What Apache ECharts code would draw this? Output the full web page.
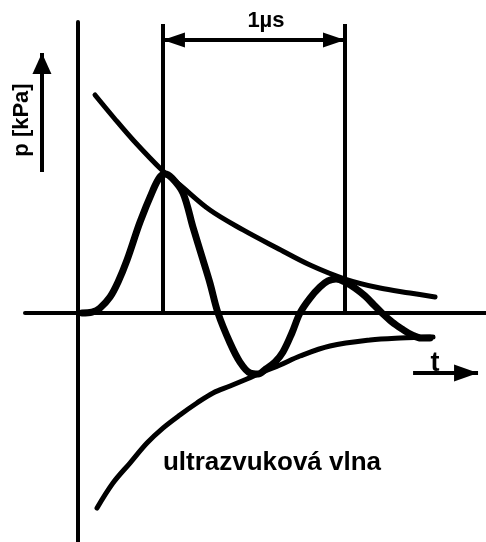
<!DOCTYPE html>
<html>
<head>
<meta charset="utf-8">
<script src="https://cdn.jsdelivr.net/npm/echarts@6/dist/echarts.min.js"></script>
<style>
  html, body { margin: 0; padding: 0; background: #fff; }
  #chart { width: 486px; height: 542px; }
</style>
</head>
<body>
<div id="chart"></div>
<script>
// time in µs, pressure in relative units (first peak ~ 1)
const waveT = [0.022, 0.077, 0.120, 0.175, 0.219, 0.268, 0.339, 0.410, 0.448, 0.475,
  0.514, 0.574, 0.628, 0.683, 0.721, 0.765, 0.831, 0.885, 0.940, 0.984,
  1.027, 1.077, 1.120, 1.169, 1.213, 1.268, 1.322, 1.366, 1.410, 1.459,
  1.514, 1.568, 1.617, 1.661, 1.716, 1.770, 1.825, 1.874, 1.923]
const waveP = [0, 0.007, 0.035, 0.113, 0.220, 0.376, 0.645, 0.872, 0.965, 0.986,
  0.957, 0.851, 0.610, 0.376, 0.213, 0, -0.213, -0.348, -0.426, -0.433,
  -0.397, -0.348, -0.277, -0.142, 0, 0.106, 0.184, 0.227, 0.241, 0.220,
  0.177, 0.121, 0.057, 0, -0.064, -0.113, -0.156, -0.177, -0.177]

const upperT = [0.093, 0.197, 0.301, 0.464, 0.557, 0.721, 0.902, 1.087, 1.268, 1.459, 1.650, 1.814, 1.951]
const upperP = [1.546, 1.383, 1.227, 1.007, 0.908, 0.730, 0.589, 0.461, 0.340, 0.241, 0.177, 0.142, 0.113]

const lowerT = [0.104, 0.191, 0.284, 0.377, 0.464, 0.557, 0.650, 0.738, 0.831, 0.923,
  1.011, 1.104, 1.213, 1.377, 1.596, 1.760, 1.940]
const lowerP = [-1.383, -1.206, -1.064, -0.922, -0.816, -0.723, -0.638, -0.567, -0.518, -0.468,
  -0.418, -0.369, -0.305, -0.234, -0.191, -0.177, -0.170]

// the 1 µs span between the two peaks
const spanT = [0.464, 1.459]
const spanLabel = '1µs'
const pLabel = 'p [kPa]'
const tLabel = 't'
const waveLabel = 'ultrazvuková vlna'

const zip = (xs, ys) => xs.map((x, i) => [x, ys[i]])

const font = '"Liberation Sans", Arial, sans-serif'
const black = '#000'

const curve = (name, data, width) => ({
  name,
  type: 'line',
  data,
  smooth: 0.35,
  showSymbol: false,
  silent: true,
  lineStyle: { color: black, width, cap: 'round', join: 'round' }
})

// one end of an arrow: head is [width, length], tip sits on the point
const end = (coord, head) => head
  ? { coord, symbol: 'triangle', symbolSize: head, symbolOffset: [0, head[1] / 2] }
  : { coord, symbol: 'none' }

const arrow = (name, from, to, fromHead, toHead, label) => ({
  name,
  type: 'line',
  data: [],
  silent: true,
  markLine: {
    silent: true,
    animation: false,
    lineStyle: { color: black, width: 4, type: 'solid' },
    itemStyle: { color: black },
    label: label || { show: false },
    data: [[end(from, fromHead), end(to, toHead)]]
  }
})

const chart = echarts.init(document.getElementById('chart'))

const option = {
  backgroundColor: '#fff',
  animation: false,
  grid: { left: 25, right: 0, top: 22, bottom: 0 },
  xAxis: {
    type: 'value',
    min: -0.2896,
    max: 2.2295,
    axisLine: { show: true, onZero: true, lineStyle: { color: black, width: 4 } },
    axisTick: { show: false },
    axisLabel: { show: false },
    splitLine: { show: false }
  },
  yAxis: {
    type: 'value',
    min: -1.6241,
    max: 2.0638,
    axisLine: { show: true, onZero: true, lineStyle: { color: black, width: 4 } },
    axisTick: { show: false },
    axisLabel: { show: false },
    splitLine: { show: false }
  },
  series: [
    {
      name: 'marks',
      type: 'line',
      data: [],
      silent: true,
      markLine: {
        silent: true,
        animation: false,
        symbol: ['none', 'none'],
        lineStyle: { color: black, width: 4, type: 'solid' },
        label: { show: false },
        data: spanT.map(t => [{ coord: [t, 0] }, { coord: [t, 2.05] }])
      }
    },
    curve('upper', zip(upperT, upperP), 5),
    curve('lower', zip(lowerT, lowerP), 5),
    Object.assign(curve('wave', zip(waveT, waveP), 7), {
      markPoint: {
        silent: true,
        animation: false,
        symbol: 'circle',
        symbolSize: 0,
        itemStyle: { color: 'transparent' },
        label: {
          show: true,
          position: 'inside',
          color: black,
          fontFamily: font,
          fontWeight: 'bold',
          fontSize: 26,
          formatter: p => p.name
        },
        data: [
          { name: waveLabel, coord: [1.060, -1.064] },
          { name: tLabel, coord: [1.951, -0.362], label: { fontSize: 27 } }
        ]
      }
    }),
    arrow('span', [spanT[0], 1.936], [spanT[1], 1.936], [15, 22], [15, 22], {
      show: true,
      position: 'insideMiddleTop',
      distance: 8,
      padding: [0, 0, 0, 24],
      color: black,
      fontFamily: font,
      fontWeight: 'bold',
      fontSize: 22,
      formatter: spanLabel
    }),
    arrow('p', [-0.197, 1.0], [-0.197, 1.844], null, [19, 21], {
      show: true,
      position: 'insideMiddleTop',
      distance: 9,
      padding: [0, 15, 0, 0],
      color: black,
      fontFamily: font,
      fontWeight: 'bold',
      fontSize: 22,
      formatter: pLabel
    }),
    arrow('t', [1.831, -0.426], [2.186, -0.426], null, [17, 24])
  ]
}

chart.setOption(option)
window.addEventListener('resize', () => chart.resize())
</script>
</body>
</html>
